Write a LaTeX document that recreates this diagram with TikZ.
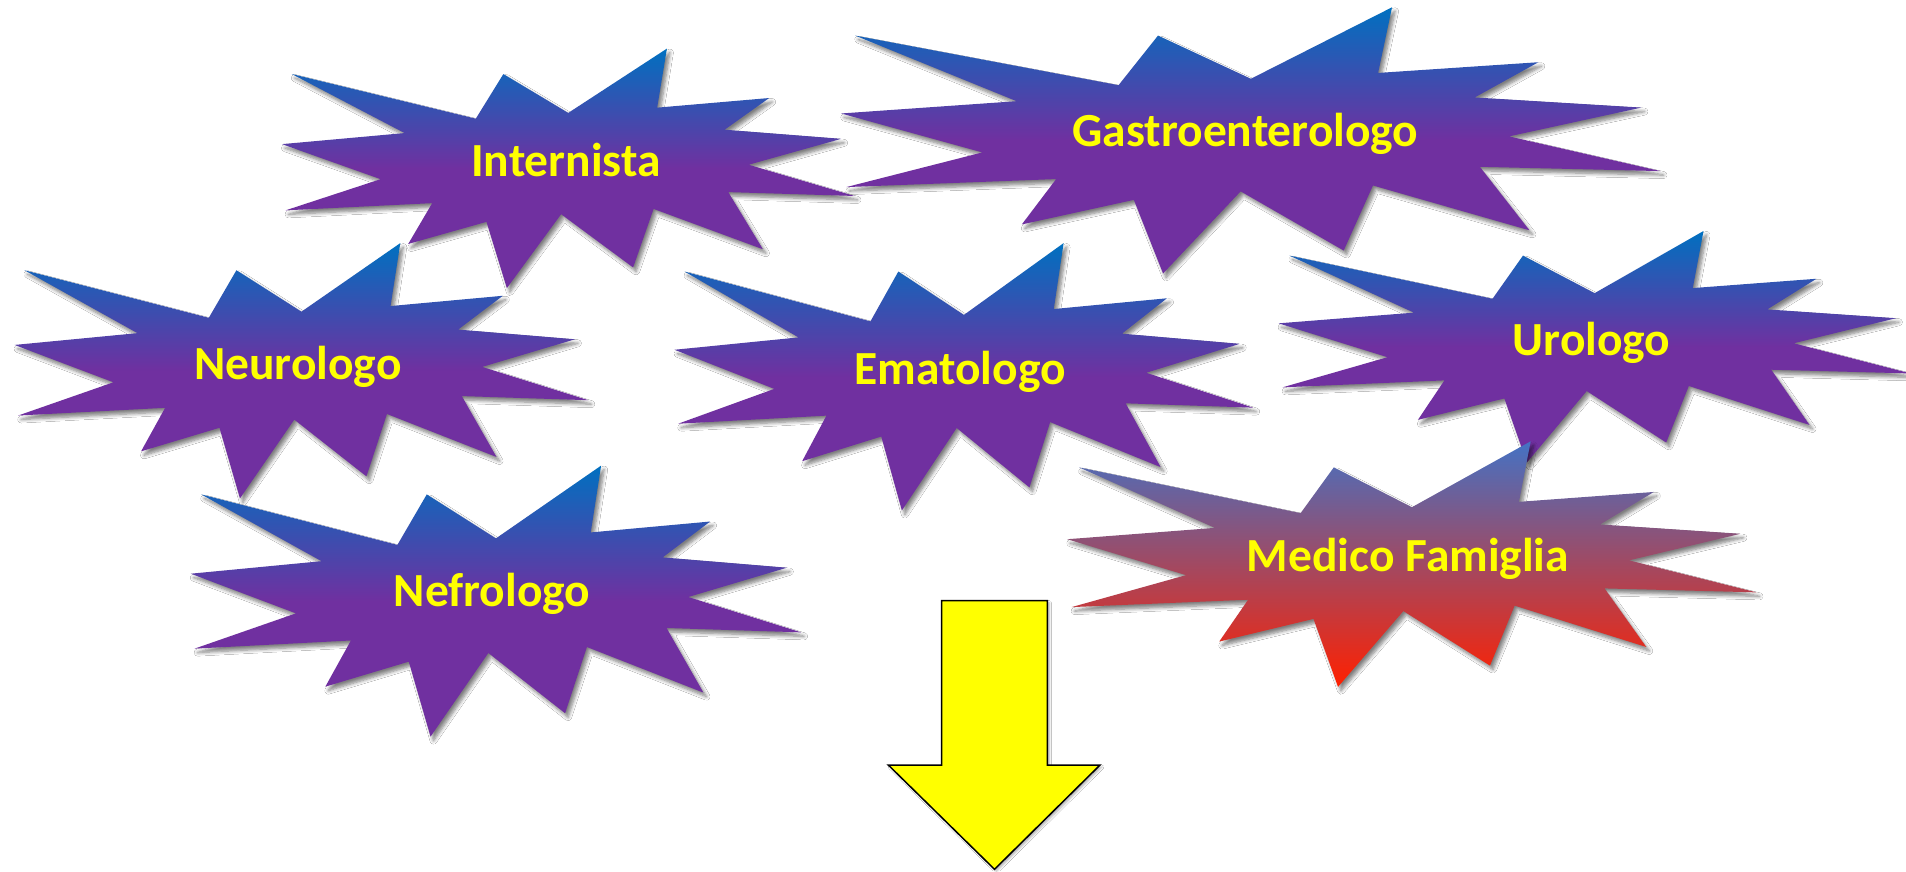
\documentclass[tikz,border=0pt]{standalone}
\usepackage{fontspec}
\setmainfont{Carlito}
\usetikzlibrary{shadows.blur}

\definecolor{sealblue}{RGB}{0,112,192}
\definecolor{sealpurple}{RGB}{112,48,160}
\definecolor{famtop}{RGB}{68,114,196}
\definecolor{fambottom}{RGB}{255,32,0}
\definecolor{labelyellow}{RGB}{255,255,0}

\tikzset{
  sealshadow/.style={blur shadow={shadow xshift=3pt, shadow yshift=-4pt,
      shadow blur radius=3.5pt, shadow blur steps=6, shadow opacity=50}},
  specialist/.style={sealshadow, top color=sealblue, bottom color=sealpurple,
      middle color=sealpurple},
  family/.style={sealshadow, top color=famtop, bottom color=fambottom},
  label/.style={text=labelyellow, font=\fontsize{47.5}{57}\selectfont\bfseries,
      anchor=base, inner sep=0pt},
  downarrow/.style={fill=labelyellow, draw=black, line width=1.5pt,
      line join=miter, blur shadow={shadow xshift=2pt, shadow yshift=-2pt,
      shadow blur radius=2pt, shadow blur steps=4, shadow opacity=30}},
}

% Explosion outline in a unit box: #1 style, #2/#3 top-left corner, #4 width, #5 height
\newcommand\explosion[5]{%
  \begin{scope}[shift={(#2,#3)}, x=#4pt, y=-#5pt]
    \shade[#1] (0.5,0.26852) -- (0.67231,0) -- (0.65532,0.24653)
      -- (0.85093,0.20634) -- (0.77324,0.33866) -- (0.97671,0.37671)
      -- (0.81514,0.48495) -- (1,0.61528) -- (0.77949,0.59917)
      -- (0.84005,0.83773) -- (0.64907,0.66931) -- (0.61329,0.91375)
      -- (0.48759,0.69144) -- (0.39282,1) -- (0.35718,0.72347)
      -- (0.22046,0.81560) -- (0.26236,0.64523) -- (0.00625,0.67532)
      -- (0.17231,0.54514) -- (0,0.39884) -- (0.21421,0.35264)
      -- (0.01713,0.10625) -- (0.33852,0.29259) -- (0.38667,0.10625)
      -- cycle;
  \end{scope}}

\begin{document}
\begin{tikzpicture}[x=1pt, y=-1pt]
  \fill[white] (0,0) rectangle (1906,871);
  \useasboundingbox (0,0) rectangle (1906,871);

  \explosion{specialist}{282.0}{48.6}{572.5}{239.5}
  \node[label] (internista) at (566,176) {Internista};

  \explosion{specialist}{841.2}{7.3}{819.3}{266.2}
  \node[label] (gastro) at (1245.5,146.7) {Gastroenterologo};

  \explosion{specialist}{14.6}{243.1}{573.7}{255.3}
  \node[label] (neuro) at (297.8,379.3) {Neurologo};

  \explosion{specialist}{674.6}{243.1}{578.6}{267.4}
  \node[label] (emato) at (960,384.3) {Ematologo};

  \explosion{specialist}{1278.6}{231}{632}{231.5}
  \node[label] (uro) at (1591.6,355.7) {Urologo};

  \explosion{specialist}{190.8}{465.6}{610.3}{271}
  \node[label] (nefro) at (492,606.7) {Nefrologo};

  \explosion{family}{1067.3}{441.3}{689.2}{245.5}
  \node[label] (medico) at (1408,571.7) {Medico Famiglia};

  % yellow block arrow pointing down
  \draw[downarrow] (941.7,600.7) -- (1047.3,600.7) -- (1047.3,765)
    -- (1100,765) -- (994.5,869.3) -- (888.3,765) -- (941.7,765) -- cycle;
\end{tikzpicture}
\end{document}
